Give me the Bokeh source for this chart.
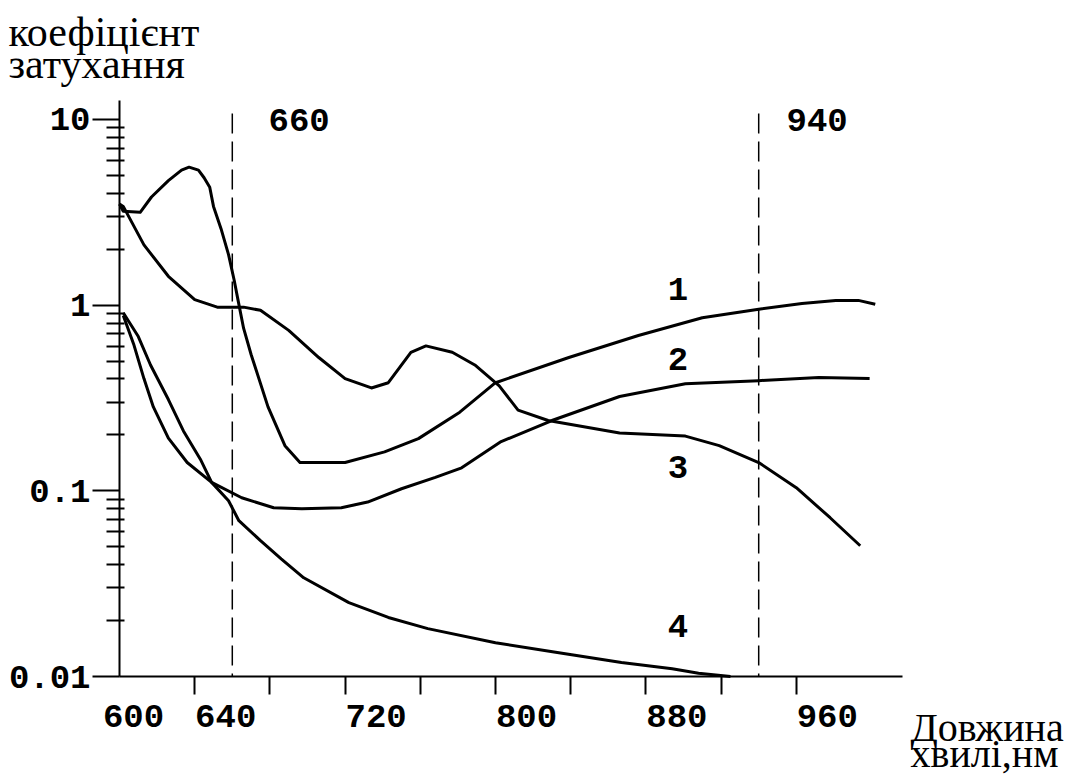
from bokeh.plotting import figure
from bokeh.models import FixedTicker, Label, CustomJSTickFormatter, Range1d
from bokeh.embed import file_html
from bokeh.resources import INLINE

# ---- data (wavelength nm, attenuation coefficient) ----
curve1_x = [600, 602, 611, 617, 626, 633, 637, 642, 645, 648, 650, 654, 658, 661, 663, 666,
            670, 679, 688, 696, 720, 741, 759, 781, 800, 839, 876, 910, 940, 963, 981, 993, 1002]
curve1_y = [3.5, 3.2, 3.16, 3.82, 4.68, 5.33, 5.53, 5.33, 4.85, 4.31, 3.40, 2.58, 1.87, 1.36, 1.07, 0.751,
            0.542, 0.283, 0.175, 0.142, 0.142, 0.162, 0.191, 0.265, 0.382, 0.522, 0.686, 0.855, 0.95, 1.02, 1.06, 1.06, 1.01]

curve2_x = [602, 607.5, 613, 618, 626, 636, 649, 665, 682, 697, 718, 732, 750, 768, 782,
            803, 830, 866, 901, 940, 972, 999]
curve2_y = [0.88, 0.618, 0.402, 0.283, 0.192, 0.142, 0.111, 0.0917, 0.081, 0.080, 0.081, 0.087, 0.1026, 0.118, 0.133,
            0.184, 0.239, 0.322, 0.377, 0.392, 0.408, 0.402]

curve3_x = [600, 602, 613, 626, 640, 652, 666, 675, 690, 706, 720, 734, 743, 755, 763, 777, 789,
            802, 812, 828, 866, 901, 919, 940, 960, 978, 994]
curve3_y = [3.5, 3.4, 2.11, 1.43, 1.07, 0.975, 0.975, 0.937, 0.731, 0.522, 0.402, 0.358, 0.382, 0.557, 0.603, 0.557, 0.476,
            0.367, 0.272, 0.239, 0.205, 0.197, 0.175, 0.142, 0.104, 0.0716, 0.0506]

curve4_x = [602, 610, 616.5, 626, 634, 643, 649, 658, 663.5, 675, 686, 698, 722, 743, 764, 800,
            832, 867, 894, 908, 925]
curve4_y = [0.91, 0.677, 0.476, 0.31, 0.21, 0.148, 0.111, 0.0884, 0.069, 0.0539, 0.043, 0.034, 0.025, 0.0208, 0.0181, 0.0152,
            0.0135, 0.0119, 0.011, 0.0104, 0.0100]

curve_names = ["1", "2", "3", "4"]
curve_label_x = [897, 897, 897, 897]
curve_label_y = [1.14, 0.476, 0.125, 0.0173]

marker_lines = [660, 940]
marker_labels = ["660", "940"]

xtick_values = [600, 640, 720, 800, 880, 960]
xtick_labels = ["600", "640", "720", "800", "880", "960"]
xtick_marks = [640, 680, 720, 760, 800, 840, 880, 920, 960]

ytick_values = [0.01, 0.1, 1, 10]
ytick_labels = ["0.01", "0.1", "1", "10"]
ytick_minor = [k * 10.0 ** e for e in (-2, -1, 0) for k in range(2, 10)]

y_title = ["коефіцієнт", "затухання"]
x_title = ["Довжина", "хвилі,нм"]

# ---- layout constants (page pixels) ----
W, H = 1078, 778
X0_PX, PX_PER_NM = 119, 1.88          # x=600 at 119 px
Y0_PX, PX_PER_DEC = 676, 185.7         # y=0.01 at 676 px
AX_RIGHT_PX, AX_TOP_PX = 902, 100

def px2x(px):
    return 600 + (px - X0_PX) / PX_PER_NM

def py2y(py):
    return 10 ** (-2 + (Y0_PX - py) / PX_PER_DEC)

MONO = "Liberation Mono"
SERIF = "Liberation Serif"
MONO_UP = 12     # baseline correction for 34px text
SERIF_UP = 14    # baseline correction for 42px text

p = figure(width=W, height=H, output_backend="svg", toolbar_location=None,
           y_axis_type="log",
           x_range=Range1d(px2x(0), px2x(W)), y_range=Range1d(py2y(H), py2y(0)),
           min_border_left=0, min_border_right=0, min_border_top=0, min_border_bottom=0)
p.outline_line_color = None
p.xgrid.grid_line_color = None
p.ygrid.grid_line_color = None
p.background_fill_color = "white"
p.border_fill_color = "white"

# x axis: tick marks as minor ticks, labels placed as in the original (left-aligned at ticks)
label_shift_px = [14 if v == 600 else 31 for v in xtick_values]
xlabel_pos = [v + s / PX_PER_NM for v, s in zip(xtick_values, label_shift_px)]
xa = p.xaxis[0]
xa.fixed_location = 0.01
xa.bounds = (600, px2x(AX_RIGHT_PX))
xa.ticker = FixedTicker(ticks=xlabel_pos, minor_ticks=xtick_marks)
xa.formatter = CustomJSTickFormatter(args=dict(pos=xlabel_pos, labs=xtick_labels), code="""
    for (let i = 0; i < pos.length; i++) { if (Math.abs(pos[i] - tick) < 1e-6) return labs[i] }
    return ''
""")
xa.axis_line_width = 2
xa.axis_line_color = "black"
xa.major_tick_line_color = None
xa.major_tick_in = 0
xa.major_tick_out = 0
xa.minor_tick_line_width = 2
xa.minor_tick_line_color = "black"
xa.minor_tick_in = 0
xa.minor_tick_out = 18
xa.major_label_standoff = 10
xa.major_label_text_font = MONO
xa.major_label_text_font_style = "bold"
xa.major_label_text_font_size = "34px"
xa.major_label_text_color = "black"

# y axis
ya = p.yaxis[0]
ya.fixed_location = 600
ya.bounds = (0.01, py2y(AX_TOP_PX))
ya.ticker = FixedTicker(ticks=ytick_values, minor_ticks=ytick_minor)
ya.formatter = CustomJSTickFormatter(args=dict(pos=ytick_values, labs=ytick_labels), code="""
    for (let i = 0; i < pos.length; i++) { if (Math.abs(pos[i] - tick) < 1e-9 * pos[i]) return labs[i] }
    return ''
""")
ya.axis_line_width = 2
ya.axis_line_color = "black"
ya.major_tick_line_width = 2
ya.major_tick_in = 0
ya.major_tick_out = 27
ya.minor_tick_line_width = 2
ya.minor_tick_in = 5
ya.minor_tick_out = 13
ya.major_label_standoff = 2
ya.major_label_text_font = MONO
ya.major_label_text_font_style = "bold"
ya.major_label_text_font_size = "34px"
ya.major_label_text_color = "black"

# curves
for xs, ys in [(curve1_x, curve1_y), (curve2_x, curve2_y), (curve3_x, curve3_y), (curve4_x, curve4_y)]:
    p.line(xs, ys, line_color="black", line_width=3, line_join="round")

# dashed marker lines with their labels
marker_label_left_px = [268, 786]
for xv, lab, lpx in zip(marker_lines, marker_labels, marker_label_left_px):
    p.line([xv, xv], [py2y(113), 0.01], line_color="black", line_width=1.5, line_dash="20 8")
    p.add_layout(Label(x=px2x(lpx), y=py2y(131), y_offset=MONO_UP, text=lab,
                       text_font=MONO, text_font_style="bold", text_font_size="34px",
                       text_align="left", text_baseline="alphabetic", text_color="black"))

# curve number labels
for nm, lx, ly in zip(curve_names, curve_label_x, curve_label_y):
    p.add_layout(Label(x=lx, y=ly, y_offset=MONO_UP - 6, text=nm, text_font=MONO, text_font_style="bold",
                       text_font_size="34px", text_align="center", text_baseline="alphabetic",
                       text_color="black"))

# axis titles
for t, base in zip(y_title, [45, 77]):
    p.add_layout(Label(x=px2x(8), y=py2y(base), y_offset=SERIF_UP, text=t,
                       text_font=SERIF, text_font_size="42px", text_align="left",
                       text_baseline="alphabetic", text_color="black"))
for t, base in zip(x_title, [740, 766]):
    p.add_layout(Label(x=px2x(910), y=py2y(base), y_offset=13, text=t,
                       text_font=SERIF, text_font_size="40px", text_align="left",
                       text_baseline="alphabetic", text_color="black"))

open("out.html", "w").write(file_html(p, INLINE))
